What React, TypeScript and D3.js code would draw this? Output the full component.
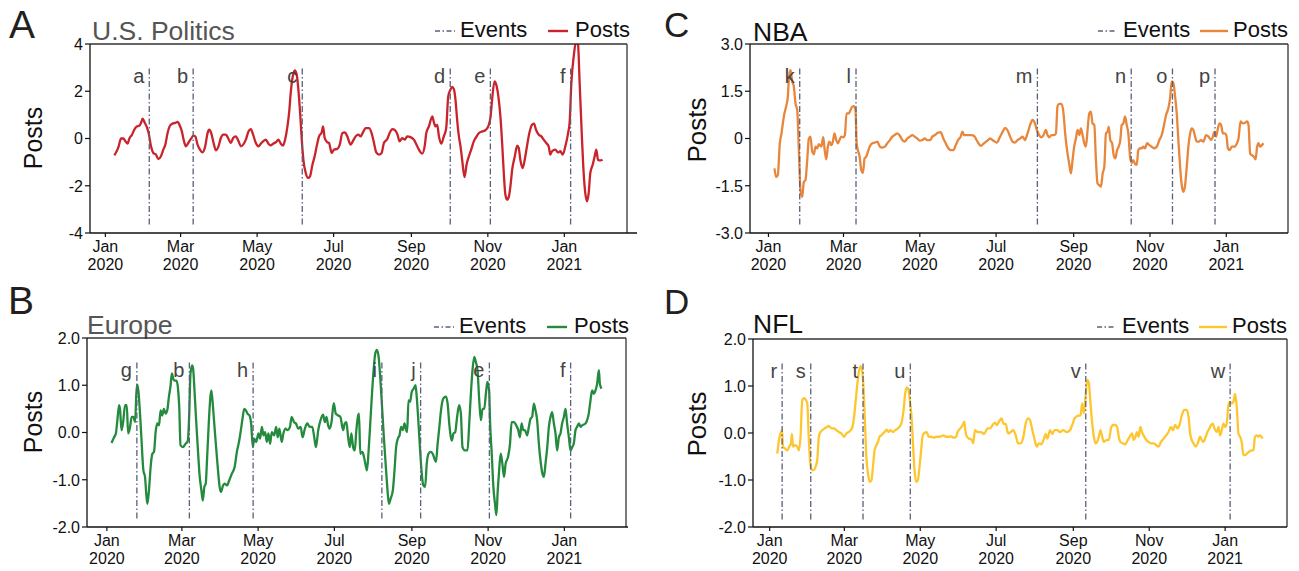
import React from "react";
import * as d3 from "d3";

type Pt = [number, number];

// x = days since 2020-01-01, y = standardized posts
const politicsPosts: Pt[] = [[7.2,-0.71],[9,-0.54],[10.6,-0.33],[12.5,0],[14.3,0],[16,-0.12],[17.8,-0.22],[19,-0.02],[21.2,0.16],[23,0.37],[25,0.51],[27,0.54],[28.4,0.66],[29.7,0.84],[31.3,0.68],[33,0.49],[34.5,0.23],[36.4,-0.33],[38.2,-0.61],[40.3,-0.68],[42.2,-0.87],[44.3,-0.75],[46.2,-0.47],[47.8,-0.26],[49.6,0.23],[51.5,0.54],[53.6,0.63],[55.7,0.66],[57.6,0.7],[59.4,0.54],[61,0.3],[62.4,-0.05],[64.2,-0.33],[66.1,-0.19],[68.2,-0.02],[70.1,0.12],[71.7,0.09],[73.5,-0.26],[75.4,-0.47],[77.5,-0.59],[79.6,-0.33],[81.5,0.23],[82.8,0.37],[84.4,0.23],[86.3,-0.19],[88.1,-0.5],[90.2,-0.33],[92.1,0.02],[94,0.16],[96.1,0.16],[98.2,-0.02],[100,-0.19],[101.9,0.02],[104,0.09],[106.2,-0.12],[108,-0.33],[109.9,-0.26],[112,-0.05],[114.1,0.3],[116,0.4],[117.8,0.16],[120,-0.19],[122.1,-0.33],[123.9,-0.22],[125.8,-0.12],[127.9,-0.05],[130,-0.22],[131.9,-0.29],[133.8,-0.22],[135.9,-0.16],[138,-0.05],[139.9,-0.22],[141.7,-0.3],[143.3,-0.05],[145.2,0.51],[146.5,1.08],[147.8,1.93],[149.2,2.56],[151,2.88],[152.6,2.7],[153.9,2.07],[155.3,1.08],[156.6,-0.05],[157.9,-0.9],[159.8,-1.46],[161.6,-1.67],[163.2,-1.6],[165.1,-1.11],[166.9,-0.75],[168.5,-0.33],[170.4,0.09],[172.5,0.26],[173.6,0.51],[174.9,0.02],[177,-0.16],[178.3,-0.19],[180.5,-0.61],[182.3,-0.47],[185,-0.44],[186.9,-0.26],[189,0.23],[191,0.26],[192.9,0.09],[195.6,-0.26],[197.7,-0.08],[199.6,0.09],[201.7,0.16],[203.6,0.09],[205.4,0.26],[207.5,0.44],[210.2,0.44],[212.3,0.23],[214.2,-0.19],[216,-0.59],[218.2,-0.68],[220.3,-0.61],[222.1,-0.19],[224.8,-0.02],[226.7,0.23],[228.8,0.4],[230.9,0.35],[233,0.16],[234.6,-0.12],[236.7,0.02],[238.8,-0.05],[240.7,0.09],[243.3,0.06],[246,-0.05],[248.7,-0.33],[250.8,-0.54],[252.7,-0.64],[254.8,-0.26],[255.9,0.23],[258,0.51],[260.7,0.94],[262,0.68],[263.3,0.51],[264.6,0.58],[266,0.09],[267.8,-0.22],[269.9,0.09],[271.8,0.44],[273.4,1.78],[275.2,2.07],[276.5,2.18],[277.9,2.09],[279.2,1.64],[280.5,0.8],[281.9,0.09],[283.2,-0.33],[284.5,-0.9],[286.4,-1.63],[288,-1.11],[289.9,-0.75],[291.7,-0.47],[293.8,-0.12],[295.7,0.06],[297.9,0.23],[300.5,0.3],[303.1,0.35],[305.3,0.51],[307.2,0.94],[308.4,1.64],[310.3,2.42],[311.9,2.24],[313.7,1.64],[315,0.94],[316.4,-0.19],[317.7,-1.46],[319,-2.38],[320.4,-2.59],[321.7,-2.47],[323,-2.02],[324.4,-1.32],[326.5,-0.75],[328.4,-0.3],[329.6,-0.4],[330.9,-0.9],[332.8,-1.25],[334.4,-0.9],[336.2,-0.33],[338.1,0.23],[340.2,0.58],[341.8,0.63],[343.4,0.37],[345.6,0.16],[347.7,0.09],[349.5,-0.05],[351.6,-0.19],[353.5,-0.33],[354.8,-0.68],[356.2,-0.54],[358.8,-0.47],[361,-0.59],[362.8,-0.54],[364.7,-0.68],[366.8,-0.33],[369,0.23],[370.2,0.66],[371.6,2.35],[373.5,3.48],[375.3,4.1],[376.9,3.97],[378.2,2.35],[380.1,-0.05],[381.4,-1.46],[382.7,-2.31],[384.1,-2.66],[385.4,-2.31],[386.7,-1.46],[388.6,-1.11],[390.2,-0.75],[391.5,-0.47],[392.8,-0.9],[394.7,-0.93],[396.5,-0.9]];

const europePosts: Pt[] = [[3.7,-0.22],[5.8,-0.1],[7.2,-0.02],[8.5,0.29],[9.8,0.58],[10.6,0.47],[11.7,0.05],[13,0.22],[14.6,0.58],[15.9,0.58],[17,-0.02],[18.3,0.08],[19.9,0.33],[21.2,0.33],[22.6,0.22],[23.9,1.0],[24.7,1.0],[26,0.61],[27.6,-0.1],[29.2,-0.8],[30.5,-0.94],[31.6,-1.33],[32.4,-1.51],[33.7,-1.22],[35,-0.73],[36.4,-0.45],[37.7,-0.41],[39,0.01],[40.3,0.19],[41.7,0.15],[43,0.47],[44.3,0.36],[45.6,0.5],[47,0.4],[48.3,0.47],[49.6,0.75],[51,1.0],[52,1.25],[53.1,1.14],[54.1,1.1],[55.7,1.1],[56.8,0.96],[57.9,0.54],[58.9,-0.27],[60.8,-0.31],[62.9,-0.24],[64.8,-0.17],[65.8,0.33],[66.9,1.25],[68.2,1.42],[69,1.35],[70.1,0.89],[71.4,0.26],[72.7,-0.31],[74.3,-0.94],[75.6,-1.22],[76.7,-1.44],[78,-1.15],[79.1,-1.08],[80.1,-0.59],[81.5,0.19],[82.8,0.75],[83.6,0.89],[84.9,0.54],[86.3,0.05],[87.6,-0.38],[88.9,-0.8],[90.2,-1.15],[91.3,-1.26],[92.9,-1.12],[94.2,-1.08],[96.1,-1.12],[97.9,-1.01],[100,-0.87],[102.2,-0.73],[104,-0.41],[105.9,-0.17],[107.2,0.05],[108.5,0.29],[109.9,0.5],[111.2,0.47],[112.5,0.4],[114.1,0.36],[115.4,0.19],[116.8,-0.31],[117.8,-0.13],[119.4,-0.2],[121.3,-0.02],[122.6,-0.13],[124,0.12],[125.3,-0.06],[126.6,0.01],[127.9,-0.2],[129.2,-0.02],[130.6,-0.24],[131.9,0.01],[133.8,-0.06],[135.4,0.12],[136.7,-0.1],[138,0.08],[139.9,-0.2],[141.2,-0.02],[143,0.08],[144.4,0.05],[146.5,0.12],[147.8,0.33],[149.7,0.22],[151.3,0.19],[153.1,0.08],[155,0.12],[156.6,-0.1],[158.4,0.08],[160.3,0.19],[162.4,0.12],[164.3,0.12],[165.9,-0.1],[167.2,-0.31],[169.1,0.05],[170.9,0.26],[173,0.38],[174.4,0.22],[175.7,0.33],[177,0.15],[178.3,0.08],[179.7,0.22],[181.5,0.62],[183.1,0.4],[185,0.36],[186.8,0.33],[189,0.05],[190.3,0.19],[191.6,0.22],[193,-0.1],[194.3,-0.31],[195.6,-0.02],[197,-0.31],[198.3,-0.38],[199.6,0.05],[201,0.36],[201.7,0.4],[202.7,-0.45],[204.4,-0.41],[205.7,-0.52],[207,-0.69],[208.1,-0.8],[209.4,-0.38],[210.7,0.19],[212.1,0.82],[213.4,1.32],[214.7,1.67],[216,1.75],[217.4,1.6],[218.7,1.17],[220.3,0.47],[221.6,-0.1],[223,-0.66],[224.3,-1.15],[225.6,-1.51],[227,-1.4],[228.8,-1.22],[230.1,-0.8],[231.4,-0.31],[232.8,-0.13],[234.1,-0.06],[235.4,0.12],[236.7,0.05],[238.1,0.19],[239.4,0.05],[240.2,0.01],[241.3,0.68],[242.6,0.65],[243.9,0.86],[245.5,0.93],[246.9,1.0],[247.9,0.75],[249.3,0.19],[250.6,-0.38],[251.9,-0.87],[253.2,-1.12],[254.6,-1.15],[255.9,-0.66],[257.3,-0.45],[258.8,-0.41],[260.7,-0.45],[262,-0.55],[263.3,-0.62],[264.6,-0.24],[266,0.12],[267.3,0.47],[269.2,0.72],[271.2,0.76],[272.6,0.61],[273.9,0.19],[275.2,-0.1],[276,-0.17],[277.3,-0.02],[278.7,0.01],[280,0.29],[281.8,0.58],[283.2,0.4],[284.5,-0.31],[286.4,-0.38],[288.5,-0.38],[289.9,0.19],[291.2,0.82],[292.5,1.32],[293.9,1.6],[295.2,1.49],[296.5,1.32],[297.9,0.68],[299.2,0.26],[300.5,0.5],[301.9,0.5],[303.2,0.82],[304.4,1.07],[305.8,0.89],[306.6,0.19],[307.9,-0.45],[309.2,-1.15],[310.5,-1.51],[311.6,-1.75],[312.7,-1.22],[313.8,-0.8],[315.1,-0.45],[316.4,-0.66],[317.7,-0.94],[319,-0.66],[320.9,-0.52],[322.5,-0.24],[323.8,0.22],[325.7,0.22],[327.5,0.15],[329.1,0.05],[330.4,-0.1],[331.8,0.19],[333.1,0.05],[334.4,0.05],[336.2,-0.06],[337.6,0.12],[338.9,0.29],[340.2,0.33],[341.6,0.61],[342.9,0.47],[344.2,0.26],[345.6,-0.24],[346.9,-0.59],[348.2,-0.84],[349.6,-0.94],[350.9,-0.66],[352.3,-0.31],[353.6,0.12],[354.9,0.33],[356.2,0.43],[357.6,0.19],[358.9,-0.02],[360.2,-0.38],[361.6,-0.1],[362.9,-0.02],[364.2,0.19],[365.6,0.33],[366.9,0.5],[368.2,0.19],[369.6,-0.1],[370.9,-0.38],[372.2,-0.31],[373.5,-0.24],[374.9,0.05],[376.2,0.12],[377.6,0.19],[378.9,0.12],[380.2,0.15],[381.5,0.17],[382.9,0.19],[384.2,0.26],[385.5,0.4],[386.9,0.68],[388.2,0.89],[389.6,0.82],[390.9,0.89],[392.2,1.03],[393.6,1.32],[394.4,1.03],[395.7,0.93]];

const nbaPosts: Pt[] = [[4.8,-0.95],[6.1,-1.22],[7.5,-1.16],[9.1,-0.15],[10.4,0.16],[11.5,0.48],[12.8,0.8],[14.1,1.01],[15.5,1.33],[16.3,1.86],[17.6,2.18],[19,1.81],[20.3,1.65],[21.6,1.12],[23,0.91],[24.3,-0.37],[25.6,-1.64],[27,-1.85],[28.3,-1.38],[29.6,-1.32],[31,-0.68],[32.3,0],[33.6,0.06],[35,-0.42],[36.3,-0.5],[37.6,-0.26],[39,-0.31],[40.3,-0.18],[42.2,-0.26],[43.8,0.04],[44.8,-0.31],[46.2,-0.66],[47.5,-0.26],[48.8,-0.1],[50.2,-0.21],[51.5,-0.1],[52.8,0.16],[54.2,-0.05],[55.5,-0.15],[56.8,-0.05],[58.2,0.06],[59.8,0.04],[61.1,0.11],[62.4,0.8],[64.3,0.8],[65.7,0.91],[67,1.01],[68.3,1.03],[69.6,0.91],[70.5,-0.15],[71.5,-0.37],[72.9,-0.58],[74.2,-1.0],[75.5,-1.09],[76.9,-0.63],[78.2,-0.58],[79.5,-0.42],[80.9,-0.26],[83,-0.15],[84.9,-0.13],[87,-0.1],[89.1,-0.26],[91,-0.29],[93.1,-0.26],[95,-0.15],[97.1,-0.05],[99,0.06],[100.9,0.11],[103,0.16],[105.2,0.08],[107,-0.05],[108.9,-0.1],[111,0],[113.2,0.06],[115,0.11],[116.9,0.06],[119,0],[121.2,-0.07],[123,-0.05],[124.9,0],[127,-0.05],[129.2,-0.05],[131,0.06],[133.2,0.11],[135.6,0.19],[137.7,0.2],[139.8,0],[141.7,-0.15],[143.8,-0.31],[145.7,-0.37],[147.9,-0.37],[149.7,-0.21],[151.6,-0.05],[153.7,0.06],[155.1,0.22],[156.4,0.11],[158.5,0.11],[160.4,0.11],[162.3,0.11],[164.4,0.08],[167.1,-0.1],[169.7,-0.23],[172.4,-0.15],[175,-0.07],[177.2,0],[179.9,-0.07],[182.5,-0.13],[185.2,0.06],[187.3,0.22],[189.2,0.34],[191,0.27],[193.2,0.06],[195.1,-0.1],[197,-0.13],[199.1,-0.05],[201.2,0],[203.1,0.06],[205,-0.05],[207.1,0.16],[209.2,0.43],[211.1,0.59],[213,0.48],[214.6,0.27],[216.4,0.11],[218.3,0.04],[219.9,0.11],[221.8,0.27],[223.1,0.11],[224.4,0.04],[226.3,0.11],[228.4,0.11],[229.8,0.16],[231.1,1.03],[232.4,1.1],[234.3,1.1],[235.9,0.8],[237.2,0.16],[239.1,-0.48],[240.4,-0.79],[241.8,-1.11],[243.1,-0.69],[244.4,-0.26],[245.8,0],[247.1,0.27],[248.5,0.11],[249.8,0.32],[251.1,0.11],[252.5,-0.15],[253.8,-0.26],[255.1,0.27],[256.5,0.8],[257.8,0.85],[259.1,0.48],[260.5,0.43],[261.8,-0.69],[263.1,-1.43],[264.5,-1.48],[265.8,-1.53],[267.2,-1.11],[268.5,-0.9],[269.8,0.16],[271.2,0.22],[272,0.38],[273.3,-0.05],[274.7,-0.15],[276,-0.53],[277.3,-0.63],[278.7,-0.37],[280,-0.26],[281.3,-0.05],[282.4,0.43],[283.7,0.48],[285.1,0.7],[286.4,0.43],[287.7,0.16],[289.1,-0.58],[290.4,-0.77],[291.7,-0.69],[293.1,-0.81],[294.4,-0.84],[295.7,-0.37],[297.1,-0.31],[298.4,-0.31],[299.7,-0.26],[301.1,-0.31],[302.7,-0.15],[304.5,-0.21],[306.4,-0.26],[308.5,-0.31],[310.4,-0.26],[312.5,-0.05],[314.4,0.11],[316,0.38],[317.9,0.75],[319.7,0.96],[321.1,1.28],[322.4,1.81],[323.7,1.76],[325.1,1.33],[326.4,0.8],[327.7,-0.05],[329.1,-0.9],[330.4,-1.48],[331.7,-1.69],[333.1,-1.48],[334.4,-0.9],[335.7,-0.26],[337.1,0.16],[338.4,0.32],[339.7,0.27],[341.1,0.06],[342.4,-0.1],[344,-0.1],[345.9,-0.05],[347.7,-0.1],[349.9,0.11],[351.8,0.06],[353.9,-0.05],[355.3,0.06],[356.6,0.22],[357.9,0.06],[359.3,0.32],[360.6,0.48],[361.9,0.43],[363.3,0.16],[364.6,0.16],[366,0.11],[367.3,-0.31],[368.6,-0.37],[370.5,-0.26],[372.6,-0.26],[374.5,-0.15],[375.8,0],[377.4,0.54],[379.3,0.48],[381.1,0.5],[382.7,0.54],[383.8,0.43],[385.1,-0.48],[386.5,-0.53],[388.1,-0.58],[389.4,-0.66],[390.7,-0.26],[391.8,-0.15],[393.1,-0.26],[394.5,-0.21],[395.8,-0.15]];

const nflPosts: Pt[] = [[6.1,-0.44],[7.5,-0.15],[8.8,-0.01],[9.9,0.06],[10.7,-0.29],[12.3,-0.33],[14.1,-0.37],[15.7,-0.29],[17.1,-0.22],[17.9,-0.02],[18.7,-0.29],[20.3,-0.26],[22.2,-0.29],[23.5,-0.37],[24.8,-0.08],[26.2,0.7],[27.8,0.74],[29.1,0.7],[30.2,0.63],[31.5,-0.15],[32.8,-0.69],[34.2,-0.79],[35.5,-0.79],[36.8,-0.72],[38.2,-0.58],[39.5,-0.08],[40.8,0.02],[42.2,0.06],[44.3,0.1],[46.2,0.13],[47.5,0.15],[49.6,0.1],[51.8,0.1],[53.6,0.06],[55.5,0.02],[57.6,-0.01],[59.8,-0.08],[61.6,-0.01],[63.5,0.02],[65.1,0.06],[66.5,0.13],[67.8,0.34],[68.9,0.63],[70.2,0.98],[71.5,1.27],[72.9,1.42],[74.2,1.34],[75.5,0.91],[76.6,0.2],[77.7,-0.51],[79,-0.86],[80.3,-1.04],[81.7,-1.01],[83,-0.72],[84.3,-0.37],[85.7,-0.26],[87,-0.19],[88.3,-0.08],[89.7,-0.05],[91,-0.01],[92.3,0.02],[94.2,0.07],[95.5,0.02],[97.1,0.06],[99,0.02],[100.9,0.06],[103,0.1],[105.2,0.17],[106.2,0.24],[107.6,0.49],[108.9,0.84],[110.2,0.97],[111.6,0.91],[112.9,0.63],[114,0.34],[115,-0.15],[116.4,-0.79],[117.7,-1.04],[119,-1.01],[120.4,-0.72],[121.7,-0.37],[123,-0.05],[124.4,0],[126.2,0.02],[127.8,-0.08],[129.7,-0.08],[131.8,-0.1],[133.7,-0.08],[135.6,-0.08],[137.7,-0.07],[139.6,-0.05],[141.7,-0.08],[143.8,-0.08],[145.7,-0.07],[147.9,-0.1],[149.7,-0.08],[151.1,0.02],[153.2,0.1],[155.1,0.17],[156.4,0.24],[157.2,0.06],[158.5,-0.08],[160.4,-0.12],[162.3,-0.14],[163.6,-0.22],[164.9,0.06],[167.1,0.02],[169.7,0.02],[172.4,-0.02],[175,0.1],[177.2,0.1],[179.1,0.17],[181,0.22],[182.5,0.17],[184.4,0.25],[186.3,0.31],[187.9,0.2],[189.7,0.19],[191.6,-0.01],[193.7,0.02],[195.6,0.06],[197.7,-0.05],[199.6,-0.22],[201.7,-0.22],[203.9,-0.08],[205.7,0.2],[207.6,0.31],[209.2,0.27],[211.1,0.06],[213,-0.15],[214.6,-0.29],[216.4,-0.22],[218.3,-0.24],[220.4,-0.12],[221.8,-0.02],[223.1,-0.12],[225.3,0.06],[227.1,-0.02],[229,0.06],[231.1,0.06],[233.3,0.02],[235.9,0.06],[238.6,0.02],[241.3,0.06],[243.1,0.17],[245,0.31],[247.1,0.36],[249.8,0.38],[251.1,0.63],[252.5,0.42],[253.8,0.77],[255.2,1.13],[256.5,1.06],[257.8,0.63],[259.2,0.2],[260.5,-0.08],[261.8,-0.22],[263.2,-0.19],[264.5,-0.08],[265.8,0.06],[267.2,-0.08],[268.5,-0.19],[270.6,-0.15],[272.5,-0.15],[274.3,0.1],[276,0.17],[277.8,0.17],[279.2,0.13],[280.5,-0.08],[281.8,-0.19],[284,-0.22],[285.8,-0.24],[287.7,-0.15],[289.3,-0.08],[291.2,-0.01],[292.5,-0.15],[293.9,-0.08],[295.2,0.02],[296.5,-0.08],[297.9,0.13],[299.2,0.02],[300.5,-0.05],[302.6,-0.15],[304.5,-0.19],[306.4,-0.22],[308.5,-0.22],[310.6,-0.26],[312.5,-0.29],[314.4,-0.19],[316.5,-0.12],[318.6,-0.05],[320.5,0.02],[322.4,0.13],[324,0.06],[325.9,0.17],[327.7,0.1],[329.3,0.17],[331.2,0.38],[333.1,0.49],[335.2,0.49],[336.6,0.34],[337.9,-0.01],[339.2,-0.15],[340.6,-0.22],[342.4,-0.29],[344,-0.22],[345.9,-0.08],[347.2,-0.15],[348.6,-0.19],[350.4,-0.08],[351.8,0.02],[353.4,0.1],[354.7,0.17],[356.1,0.2],[357.4,0.1],[359.3,0.02],[360.6,0.13],[361.9,-0.05],[363.3,0.06],[364.6,0.2],[366,0.13],[367.3,0.2],[368.6,0.59],[370,0.66],[371.3,0.63],[372.6,0.66],[374,0.83],[375.3,0.56],[376.7,-0.01],[378,-0.08],[379.3,-0.19],[380.7,-0.47],[382,-0.47],[383.4,-0.44],[385.2,-0.4],[387.4,-0.37],[388.7,-0.37],[390,-0.08],[391.4,-0.05],[392.7,-0.08],[394,-0.05],[396.2,-0.12]];

const politicsEvents: [string, string][] = [["a","2020-02-05"],["b","2020-03-11"],["c","2020-06-06"],["d","2020-10-02"],["e","2020-11-03"],["f","2021-01-06"]];
const europeEvents: [string, string][] = [["g","2020-01-25"],["b","2020-03-07"],["h","2020-04-27"],["i","2020-08-08"],["j","2020-09-08"],["e","2020-11-02"],["f","2021-01-06"]];
const nbaEvents: [string, string][] = [["k","2020-01-26"],["l","2020-03-11"],["m","2020-08-03"],["n","2020-10-17"],["o","2020-11-19"],["p","2020-12-23"]];
const nflEvents: [string, string][] = [["r","2020-01-11"],["s","2020-02-03"],["t","2020-03-16"],["u","2020-04-23"],["v","2020-09-11"],["w","2021-01-05"]];

const politicsTicks = [-4, -2, 0, 2, 4];
const politicsTickLabels = ["-4", "-2", "0", "2", "4"];
const europeTicks = [-2, -1, 0, 1, 2];
const europeTickLabels = ["-2.0", "-1.0", "0.0", "1.0", "2.0"];
const nbaTicks = [-3, -1.5, 0, 1.5, 3];
const nbaTickLabels = ["-3.0", "-1.5", "0", "1.5", "3.0"];
const nflTicks = [-2, -1, 0, 1, 2];
const nflTickLabels = ["-2.0", "-1.0", "0.0", "1.0", "2.0"];

const FONT = "'Liberation Sans', Arial, Helvetica, sans-serif";
const DAY = 86400000;
const BASE = Date.UTC(2020, 0, 1);
const toDate = (d: number) => new Date(BASE + d * DAY);
const parseDay = (s: string) => new Date(s + "T00:00:00Z");
const EVENT_COLOR = "#596079";

interface PanelCfg {
  id: string;
  letter: string;
  letterX: number;
  letterY: number;
  letterSize: number;
  title: string;
  titleColor: string;
  titleX: number;
  titleY: number;
  left: number;
  right: number;
  top: number;
  bottom: number;
  data: Pt[];
  events: [string, string][];
  ticks: number[];
  tickLabels: string[];
  color: string;
  yLabelX: number;
  yLabelY: number;
  yLabelSize: number;
  legendY: number;
  legendWide: boolean;
  spineExtend: number;
}

function Panel({ c }: { c: PanelCfg }) {
  const ext = d3.extent(c.data, (d) => d[0]) as [number, number];
  const pad = (ext[1] - ext[0]) * 0.05;
  const x = d3
    .scaleUtc()
    .domain([toDate(ext[0] - pad), toDate(ext[1] + pad)])
    .range([c.left, c.right]);
  const y = d3
    .scaleLinear()
    .domain([c.ticks[0], c.ticks[c.ticks.length - 1]])
    .range([c.bottom, c.top]);
  const xTicks = x.ticks(d3.utcMonth.every(2) as any);
  const line = d3
    .line<Pt>()
    .x((d) => x(toDate(d[0])))
    .y((d) => y(d[1]))
    .curve(d3.curveMonotoneX);
  const h = c.bottom - c.top;
  const evTop = c.top + 0.13 * h;
  const evBot = c.bottom - 0.04 * h;
  const R = c.right;
  const lg = c.legendWide
    ? { e0: R - 192, e1: R - 172, et: R - 167, p0: R - 79, p1: R - 59, pt: R - 52 }
    : { e0: R - 190, e1: R - 171, et: R - 165, p0: R - 88, p1: R - 60, pt: R - 55 };
  const ly = c.legendY;
  return (
    <g fontFamily={FONT}>
      <defs>
        <clipPath id={`clip-${c.id}`}>
          <rect x={c.left} y={c.top} width={c.right - c.left} height={h} />
        </clipPath>
      </defs>
      <text x={c.letterX} y={c.letterY} fontSize={c.letterSize} fill="#231f20">
        {c.letter}
      </text>
      <text x={c.titleX} y={c.titleY} fontSize={26.5} fill={c.titleColor}>
        {c.title}
      </text>
      {/* legend */}
      <line x1={lg.e0} x2={lg.e1} y1={ly - 6} y2={ly - 6} stroke={EVENT_COLOR} strokeWidth={1.4} strokeDasharray="5,2.5,1.5,2.5" />
      <text x={lg.et} y={ly} fontSize={22} fill="#111">Events</text>
      <line x1={lg.p0} x2={lg.p1} y1={ly - 6} y2={ly - 6} stroke={c.color} strokeWidth={2.4} />
      <text x={lg.pt} y={ly} fontSize={22} fill="#111">Posts</text>
      {/* data line */}
      <path d={line(c.data) || ""} fill="none" stroke={c.color} strokeWidth={2.3} strokeLinejoin="round" clipPath={`url(#clip-${c.id})`} />
      {/* events */}
      {c.events.map(([lab, ds], i) => {
        const ex = x(parseDay(ds));
        return (
          <g key={i}>
            <line x1={ex} x2={ex} y1={evTop} y2={evBot} stroke={EVENT_COLOR} strokeWidth={1.3} strokeDasharray="6,2.5,1.5,2.5" />
            <text x={ex - 5} y={c.top + 39} fontSize={20} fill="#444" textAnchor="end">
              {lab}
            </text>
          </g>
        );
      })}
      {/* box */}
      <line x1={c.left} x2={c.right} y1={c.top} y2={c.top} stroke="#333" strokeWidth={1.3} />
      <line x1={c.right} x2={c.right} y1={c.top} y2={c.bottom} stroke="#333" strokeWidth={1.3} />
      <line x1={c.left} x2={c.left} y1={c.top} y2={c.bottom} stroke="#111" strokeWidth={1.3} />
      <line x1={c.left} x2={c.right + c.spineExtend} y1={c.bottom} y2={c.bottom} stroke="#111" strokeWidth={1.3} />
      {/* y ticks */}
      {c.ticks.map((t, i) => (
        <g key={i}>
          <line x1={c.left - 5} x2={c.left} y1={y(t)} y2={y(t)} stroke="#111" strokeWidth={1.2} />
          <text x={c.left - 7} y={y(t)} dy="0.36em" fontSize={16} textAnchor="end" fill="#111">
            {c.tickLabels[i]}
          </text>
        </g>
      ))}
      {/* x ticks */}
      {xTicks.map((t, i) => (
        <g key={i}>
          <line x1={x(t)} x2={x(t)} y1={c.bottom} y2={c.bottom + 4} stroke="#111" strokeWidth={1.2} />
          <text x={x(t)} y={c.bottom + 19} fontSize={16} textAnchor="middle" fill="#111">
            {d3.utcFormat("%b")(t)}
          </text>
          <text x={x(t)} y={c.bottom + 37} fontSize={16} textAnchor="middle" fill="#111">
            {d3.utcFormat("%Y")(t)}
          </text>
        </g>
      ))}
      <text
        transform={`translate(${c.yLabelX},${c.yLabelY}) rotate(-90)`}
        dy="0.35em"
        fontSize={c.yLabelSize}
        textAnchor="middle"
        fill="#111"
      >
        Posts
      </text>
    </g>
  );
}

const panels: PanelCfg[] = [
  {
    id: "a", letter: "A", letterX: 9, letterY: 38, letterSize: 39,
    title: "U.S. Politics", titleColor: "#555", titleX: 92, titleY: 40,
    left: 90, right: 627, top: 44, bottom: 233,
    data: politicsPosts, events: politicsEvents, ticks: politicsTicks, tickLabels: politicsTickLabels,
    color: "#c9232b", yLabelX: 33, yLabelY: 138, yLabelSize: 25, legendY: 37, legendWide: true, spineExtend: 10,
  },
  {
    id: "b", letter: "B", letterX: 8, letterY: 314, letterSize: 39,
    title: "Europe", titleColor: "#555", titleX: 87, titleY: 334,
    left: 87, right: 626, top: 338, bottom: 527,
    data: europePosts, events: europeEvents, ticks: europeTicks, tickLabels: europeTickLabels,
    color: "#248a3d", yLabelX: 33, yLabelY: 422, yLabelSize: 25, legendY: 333, legendWide: true, spineExtend: 2,
  },
  {
    id: "c", letter: "C", letterX: 664, letterY: 37, letterSize: 35,
    title: "NBA", titleColor: "#111", titleX: 753, titleY: 41,
    left: 750, right: 1288, top: 44, bottom: 233,
    data: nbaPosts, events: nbaEvents, ticks: nbaTicks, tickLabels: nbaTickLabels,
    color: "#e8863b", yLabelX: 697, yLabelY: 130, yLabelSize: 26, legendY: 37, legendWide: false, spineExtend: 0,
  },
  {
    id: "d", letter: "D", letterX: 664, letterY: 314, letterSize: 35,
    title: "NFL", titleColor: "#111", titleX: 753, titleY: 333,
    left: 753, right: 1287, top: 339, bottom: 527,
    data: nflPosts, events: nflEvents, ticks: nflTicks, tickLabels: nflTickLabels,
    color: "#fec62e", yLabelX: 697, yLabelY: 424, yLabelSize: 26, legendY: 333, legendWide: false, spineExtend: 0,
  },
];

export default function App() {
  return (
    <svg
      width={1299}
      height={571}
      style={{ position: "absolute", left: 0, top: 0, background: "#fff" }}
    >
      <rect x={0} y={0} width={1299} height={571} fill="#fff" />
      {panels.map((p) => (
        <Panel key={p.id} c={p} />
      ))}
    </svg>
  );
}
